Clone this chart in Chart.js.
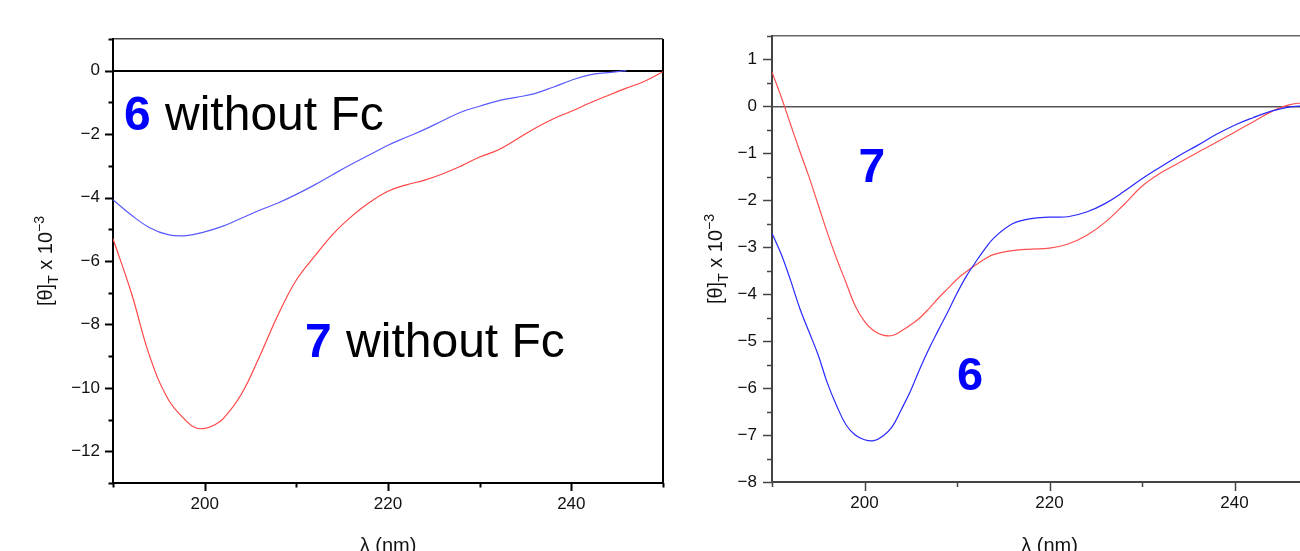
<!DOCTYPE html>
<html>
<head>
<meta charset="utf-8">
<script src="https://cdn.jsdelivr.net/npm/chart.js@4.4.1/dist/chart.umd.min.js"></script>
<style>
  html, body { margin: 0; padding: 0; width: 1300px; height: 551px; overflow: hidden; background: #fff; }
  #leftChart { position: absolute; left: 0; top: 0; }
  #rightChart { position: absolute; left: 680px; top: 0; }
</style>
</head>
<body>
<canvas id="leftChart" width="680" height="551"></canvas>
<canvas id="rightChart" width="660" height="551"></canvas>
<script>
// values, [θ]T x 10^-3 against wavelength (nm)
const leftLambda6 = [190, 192, 194, 196, 198, 200, 202, 204, 206, 208, 210, 212, 214, 216, 218, 220, 222, 224, 226, 228, 230, 232, 234, 236, 238, 240, 242, 244, 246];
const leftTheta6 = [-4.07, -4.55, -4.95, -5.17, -5.2, -5.08, -4.9, -4.65, -4.4, -4.17, -3.9, -3.6, -3.27, -2.95, -2.65, -2.35, -2.1, -1.85, -1.57, -1.3, -1.12, -0.95, -0.84, -0.72, -0.52, -0.3, -0.13, -0.06, 0];

const leftLambda7 = [190, 192, 194, 196, 198, 199, 200, 201, 202, 204, 206, 208, 210, 212, 214, 216, 218, 220, 222, 224, 226, 228, 230, 232, 234, 236, 238, 240, 242, 244, 246, 248, 250];
const leftTheta7 = [-5.3, -7.0, -9.0, -10.35, -11.05, -11.26, -11.28, -11.18, -10.98, -10.2, -9.0, -7.7, -6.6, -5.85, -5.15, -4.6, -4.15, -3.8, -3.6, -3.45, -3.25, -3.0, -2.72, -2.5, -2.17, -1.82, -1.52, -1.28, -1.02, -0.78, -0.55, -0.33, -0.03];

const rightLambda = [190, 191, 192, 193, 194, 195, 196, 197, 198, 199, 200, 201, 202, 203, 204, 205, 206, 207, 208, 209, 210, 211, 212, 213, 214, 216, 218, 220, 222, 224, 226, 228, 230, 232, 234, 236, 238, 240, 242, 244, 246, 248, 250];
const rightTheta6 = [-2.7, -3.15, -3.7, -4.3, -4.8, -5.3, -5.9, -6.38, -6.78, -7.0, -7.1, -7.12, -7.02, -6.82, -6.45, -6.05, -5.58, -5.15, -4.76, -4.38, -3.98, -3.62, -3.32, -3.04, -2.8, -2.5, -2.39, -2.36, -2.35, -2.25, -2.07, -1.82, -1.54, -1.29, -1.05, -0.83, -0.6, -0.4, -0.24, -0.1, -0.01, 0.02, 0.04];
const rightTheta7 = [0.73, 0.2, -0.38, -0.95, -1.5, -2.1, -2.7, -3.25, -3.75, -4.25, -4.58, -4.78, -4.87, -4.88, -4.78, -4.65, -4.5, -4.3, -4.08, -3.88, -3.68, -3.52, -3.38, -3.25, -3.15, -3.07, -3.04, -3.02, -2.93, -2.75, -2.47, -2.1, -1.7, -1.42, -1.2, -0.98, -0.77, -0.55, -0.33, -0.11, 0.04, 0.08, 0.1];

const xTickLabels = [200, 220, 240];
const leftYTickLabels = [-12, -10, -8, -6, -4, -2, 0];
const rightYTickLabels = [-8, -7, -6, -5, -4, -3, -2, -1, 0, 1];

const leftNotes = ['6', '7'];
const rightNotes = ['7', '6'];
const noteSuffix = ' without Fc';

const FONT = '"Liberation Sans", Arial, Helvetica, sans-serif';

function toPoints(xs, ys) {
    return xs.map((x, i) => ({ x: x, y: ys[i] }));
}

function minusLabel(v) {
    return v < 0 ? '\u2212' + Math.abs(v) : String(v);
}

// outward tick marks, long for labelled ticks and short for the others
const tickMarks = {
    id: 'tickMarks',
    afterDraw(chart, args, opts) {
        const ctx = chart.ctx;
        const area = chart.chartArea;
        const xs = chart.scales.x, ys = chart.scales.y;
        ctx.save();
        ctx.strokeStyle = opts.color;
        ctx.lineWidth = opts.width;
        xs.ticks.forEach(t => {
            const px = Math.round(xs.getPixelForValue(t.value)) + 0.5;
            const len = t.label ? opts.major : opts.minor;
            ctx.beginPath();
            ctx.moveTo(px, area.bottom);
            ctx.lineTo(px, area.bottom + len);
            ctx.stroke();
        });
        ys.ticks.forEach(t => {
            const py = Math.round(ys.getPixelForValue(t.value)) + 0.5;
            const len = t.label ? opts.major : opts.minor;
            ctx.beginPath();
            ctx.moveTo(area.left, py);
            ctx.lineTo(area.left - len, py);
            ctx.stroke();
        });
        ctx.restore();
    }
};

// rotated y title with subscript and superscript
const yTitle = {
    id: 'yTitle',
    afterDraw(chart, args, opts) {
        const ctx = chart.ctx;
        const area = chart.chartArea;
        const size = opts.size, small = Math.round(size * 0.68);
        const parts = [
            { t: '[\u03b8]', s: size, dy: 0 },
            { t: 'T', s: small, dy: size * 0.28 },
            { t: ' x 10', s: size, dy: 0 },
            { t: '\u22123', s: small, dy: -size * 0.42 }
        ];
        ctx.save();
        ctx.fillStyle = '#111';
        ctx.textBaseline = 'alphabetic';
        ctx.textAlign = 'left';
        let total = 0;
        parts.forEach(p => {
            ctx.font = p.s + 'px ' + FONT;
            p.w = ctx.measureText(p.t).width;
            total += p.w;
        });
        ctx.translate(area.left - opts.offset, (area.top + area.bottom) / 2);
        ctx.rotate(-Math.PI / 2);
        let x = -total / 2;
        parts.forEach(p => {
            ctx.font = p.s + 'px ' + FONT;
            ctx.fillText(p.t, x, p.dy);
            x += p.w;
        });
        ctx.restore();
    }
};

// big blue compound numbers written inside the plot
const notes = {
    id: 'notes',
    afterDatasetsDraw(chart, args, opts) {
        const ctx = chart.ctx;
        ctx.save();
        ctx.textBaseline = 'alphabetic';
        ctx.textAlign = 'left';
        opts.items.forEach(it => {
            const x = chart.scales.x.getPixelForValue(it.x);
            const y = chart.scales.y.getPixelForValue(it.y);
            ctx.font = 'bold ' + it.size + 'px ' + FONT;
            ctx.fillStyle = '#0000ff';
            ctx.fillText(it.num, x, y);
            if (it.rest) {
                const w = ctx.measureText(it.num).width;
                ctx.font = it.size + 'px ' + FONT;
                ctx.fillStyle = '#000';
                ctx.fillText(it.rest, x + w + 1, y);
            }
        });
        ctx.restore();
    }
};

function makeChart(id, s) {
    const ctx = document.getElementById(id).getContext('2d');
    return new Chart(ctx, {
        type: 'line',
        data: {
            datasets: s.datasets.map(d => ({
                data: d.data,
                borderColor: d.color,
                borderWidth: 1.2,
                pointRadius: 0,
                fill: false,
                tension: 0.4
            }))
        },
        plugins: [tickMarks, yTitle, notes],
        options: {
            responsive: false,
            animation: false,
            devicePixelRatio: 1,
            layout: { padding: { top: s.top, right: s.right, left: 0, bottom: 0 } },
            plugins: {
                legend: { display: false },
                tooltip: { enabled: false },
                tickMarks: { color: s.axisColor, width: s.tickWidth, major: s.major, minor: s.minor },
                yTitle: { size: 20, offset: s.titleOffset },
                notes: { items: s.notes }
            },
            scales: {
                x: {
                    type: 'linear',
                    min: 190,
                    max: 250,
                    afterFit: sc => { sc.height = 551 - s.bottom; },
                    ticks: {
                        stepSize: 10,
                        autoSkip: false,
                        maxRotation: 0,
                        padding: 11,
                        color: '#111',
                        font: { family: FONT, size: 17 },
                        callback: v => xTickLabels.includes(v) ? String(v) : ''
                    },
                    grid: {
                        drawTicks: false,
                        color: c => (s.rightBorder && c.tick && c.tick.value === 250) ? s.axisColor : 'rgba(0,0,0,0)',
                        lineWidth: s.axisWidth
                    },
                    border: { color: s.axisColor, width: s.axisWidth },
                    title: {
                        display: true,
                        text: '\u03bb (nm)',
                        color: '#111',
                        font: { family: FONT, size: 20, lineHeight: 1 },
                        padding: { top: 0, bottom: -5 }
                    }
                },
                y: {
                    type: 'linear',
                    min: s.yMin,
                    max: s.yMax,
                    afterFit: sc => { sc.width = s.yWidth; },
                    ticks: {
                        stepSize: s.yStep,
                        autoSkip: false,
                        padding: s.yPad,
                        color: '#111',
                        font: { family: FONT, size: 17 },
                        callback: v => s.yLabels.includes(v) ? minusLabel(v) : ''
                    },
                    grid: {
                        drawTicks: false,
                        color: c => {
                            if (!c.tick) return 'rgba(0,0,0,0)';
                            if (c.tick.value === 0) return s.zeroColor;
                            if (c.tick.value === s.yMax) return s.topColor;
                            return 'rgba(0,0,0,0)';
                        },
                        lineWidth: c => (c.tick && c.tick.value === 0) ? s.zeroWidth : 1.5
                    },
                    border: { color: s.axisColor, width: s.axisWidth }
                }
            }
        }
    });
}

makeChart('leftChart', {
    datasets: [
        { data: toPoints(leftLambda6, leftTheta6), color: 'rgb(90, 90, 255)' },
        { data: toPoints(leftLambda7, leftTheta7), color: 'rgb(255, 70, 70)' }
    ],
    top: 39, right: 17, bottom: 483,
    yMin: -13, yMax: 1, yStep: 1, yLabels: leftYTickLabels, yWidth: 113, yPad: 13,
    axisColor: '#000', axisWidth: 2, tickWidth: 2, major: 8, minor: 4.5,
    zeroColor: '#000', zeroWidth: 2, topColor: '#444', rightBorder: true,
    titleOffset: 61,
    notes: [
        { num: leftNotes[0], rest: noteSuffix, x: 191.2, y: -1.88, size: 48 },
        { num: leftNotes[1], rest: noteSuffix, x: 210.95, y: -9.03, size: 48 }
    ]
});

makeChart('rightChart', {
    datasets: [
        { data: toPoints(rightLambda, rightTheta6), color: 'rgb(40, 40, 255)' },
        { data: toPoints(rightLambda, rightTheta7), color: 'rgb(255, 80, 80)' }
    ],
    top: 36, right: 13, bottom: 482,
    yMin: -8, yMax: 1.5, yStep: 0.5, yLabels: rightYTickLabels, yWidth: 92, yPad: 15,
    axisColor: '#444', axisWidth: 2, tickWidth: 1.5, major: 9, minor: 5,
    zeroColor: '#555', zeroWidth: 1.5, topColor: '#666', rightBorder: false,
    titleOffset: 50,
    notes: [
        { num: rightNotes[0], x: 199.35, y: -1.607, size: 48 },
        { num: rightNotes[1], x: 210.0, y: -6.03, size: 47 }
    ]
});
</script>
</body>
</html>
